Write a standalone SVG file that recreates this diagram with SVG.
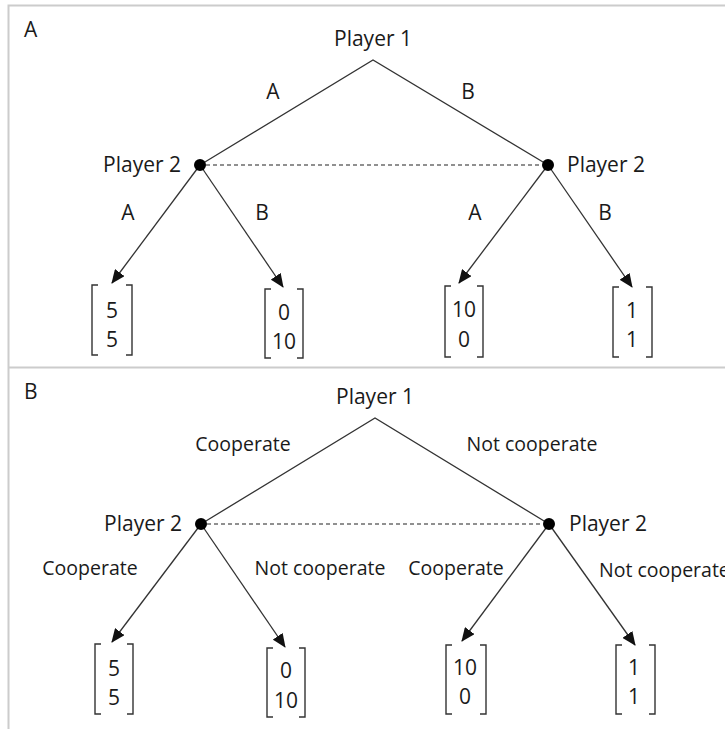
<svg xmlns="http://www.w3.org/2000/svg" width="725" height="729" viewBox="0 0 725 729">
<defs>
<marker id="ah" markerUnits="userSpaceOnUse" markerWidth="14" markerHeight="12" viewBox="0 0 14 12" refX="13" refY="6" orient="auto">
<path d="M0,0 L14,6 L0,12 Z" fill="#111"/>
</marker>
</defs>
<style>
text{font-family:"Open Sans","Liberation Sans",sans-serif;font-size:21px;fill:#1a1a1a}
.act{font-size:19.5px}
.mid{text-anchor:middle}
.end{text-anchor:end}
.frame{stroke:#cccccc;stroke-width:2;fill:none}
.edge{stroke:#333;stroke-width:1.3;fill:none}
.arr{stroke:#333;stroke-width:1.3;fill:none;marker-end:url(#ah)}
.dash{stroke:#222;stroke-width:1.2;stroke-dasharray:4,3;fill:none}
.br{stroke:#333;stroke-width:1.4;fill:none}
.dot{fill:#000}
</style>
<rect width="725" height="729" fill="#fff"/>
<g id="frame">
<path class="frame" d="M8.5,729 V5.5 H725 M8.5,367.5 H725"/>
<text x="24" y="37" font-size="22">A</text>
<text x="24" y="399" font-size="22">B</text>
</g>
<g id="connectors">
<path class="edge" d="M200,165 L373,60 L548,165"/>
<path class="dash" d="M206,165 H542"/>
<path class="arr" d="M200,165 L112,283"/>
<path class="arr" d="M200,165 L283,287"/>
<path class="arr" d="M548,165 L459,283"/>
<path class="arr" d="M548,165 L632,287"/>
<path class="edge" d="M201,524 L375,418 L549,524"/>
<path class="dash" d="M207,524 H543"/>
<path class="arr" d="M201,524 L112,642"/>
<path class="arr" d="M201,524 L285,647"/>
<path class="arr" d="M549,524 L462,641"/>
<path class="arr" d="M549,524 L635,645"/>
</g>
<g id="a-labels">
<text class="mid" x="273" y="99">A</text>
<text class="mid" x="468" y="99">B</text>
<text class="mid" x="128" y="220">A</text>
<text class="mid" x="262" y="220">B</text>
<text class="mid" x="475" y="220">A</text>
<text class="mid" x="605" y="220">B</text>
</g>
<g id="a-p1"><text class="mid" x="373" y="46">Player 1</text></g>
<g id="a-p2l"><circle class="dot" cx="200" cy="165" r="6"/><text class="end" x="181" y="172">Player 2</text></g>
<g id="a-p2r"><circle class="dot" cx="548" cy="165" r="6"/><text x="567" y="172">Player 2</text></g>
<g id="a-o1"><path class="br" d="M98,285 H92 V355 H98 M126,285 H132 V355 H126"/><text class="mid" x="112" y="318">5</text><text class="mid" x="112" y="347">5</text></g>
<g id="a-o2"><path class="br" d="M271,289 H265 V358 H271 M297,289 H303 V358 H297"/><text class="mid" x="284" y="320">0</text><text class="mid" x="284" y="349">10</text></g>
<g id="a-o3"><path class="br" d="M451,286 H445 V357 H451 M477,286 H483 V357 H477"/><text class="mid" x="464" y="317">10</text><text class="mid" x="464" y="347">0</text></g>
<g id="a-o4"><path class="br" d="M619,287 H613 V357 H619 M646,287 H652 V357 H646"/><text class="mid" x="632" y="318">1</text><text class="mid" x="632" y="347">1</text></g>
<g id="b-labels">
<text class="mid act" x="243" y="451">Cooperate</text>
<text class="mid act" x="532" y="451">Not cooperate</text>
<text class="mid act" x="90" y="575">Cooperate</text>
<text class="mid act" x="320" y="575">Not cooperate</text>
<text class="mid act" x="456" y="575">Cooperate</text>
<text class="act" x="599" y="577">Not cooperate</text>
</g>
<g id="b-p1"><text class="mid" x="375" y="404">Player 1</text></g>
<g id="b-p2l"><circle class="dot" cx="201" cy="524" r="6"/><text class="end" x="182" y="531">Player 2</text></g>
<g id="b-p2r"><circle class="dot" cx="549" cy="524" r="6"/><text x="569" y="531">Player 2</text></g>
<g id="b-o1"><path class="br" d="M101,644 H95 V714 H101 M127,644 H133 V714 H127"/><text class="mid" x="114" y="676">5</text><text class="mid" x="114" y="705">5</text></g>
<g id="b-o2"><path class="br" d="M273,648 H267 V717 H273 M299,648 H305 V717 H299"/><text class="mid" x="286" y="678">0</text><text class="mid" x="286" y="708">10</text></g>
<g id="b-o3"><path class="br" d="M452,645 H446 V714 H452 M480,645 H486 V714 H480"/><text class="mid" x="465" y="675">10</text><text class="mid" x="465" y="704">0</text></g>
<g id="b-o4"><path class="br" d="M622,645 H616 V714 H622 M649,645 H655 V714 H649"/><text class="mid" x="634" y="675">1</text><text class="mid" x="634" y="704">1</text></g>
</svg>
